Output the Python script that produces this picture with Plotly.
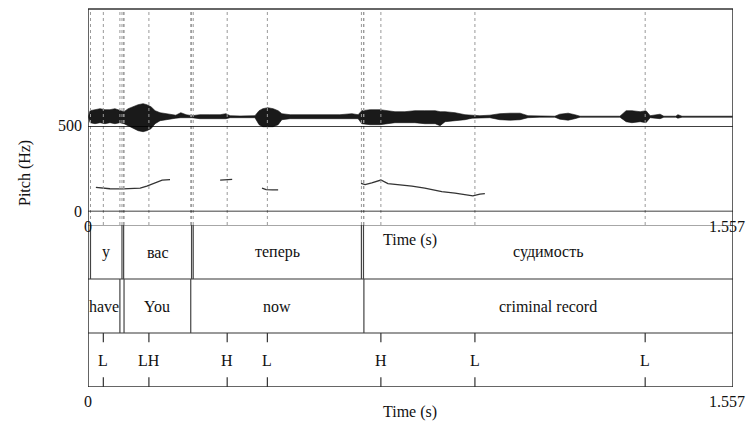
import plotly.graph_objects as go

W, H = 755, 430
OFF = 8                    # page body margin offset
T_END = 1.557

# ---------------- data ----------------
# waveform envelope (time s, upper / lower amplitude, arbitrary units)
wave_t = [0.001, 0.005, 0.017, 0.029, 0.041, 0.053, 0.065, 0.077, 0.087, 0.097,
          0.109, 0.121, 0.133, 0.142, 0.152, 0.162, 0.174, 0.186, 0.198, 0.212,
          0.224, 0.237, 0.251, 0.270, 0.294, 0.319, 0.333, 0.343, 0.367, 0.391,
          0.403, 0.413, 0.422, 0.434, 0.447, 0.459, 0.468, 0.488, 0.512, 0.560,
          0.608, 0.637, 0.652, 0.661, 0.681, 0.705, 0.719, 0.741, 0.765, 0.789,
          0.813, 0.838, 0.850, 0.862, 0.886, 0.910, 0.927, 0.946, 0.970, 0.994,
          1.019, 1.043, 1.062, 1.091, 1.127, 1.139, 1.159, 1.175, 1.188, 1.236,
          1.284, 1.299, 1.313, 1.333, 1.347, 1.357, 1.381, 1.390, 1.419, 1.424,
          1.434, 1.477, 1.556]
wave_up = [0, 6, 7, 8, 7, 7, 8, 6, 5, 8,
           10, 12, 13, 12, 10, 6, 4, 3, 2, 1.5,
           4, 2, 1, 2, 2, 2, 3, 1, 0.7, 0.7,
           1, 6, 8, 9, 8, 6, 3, 2, 2, 2,
           2, 3, 2, 6, 7, 7, 6, 5, 5, 6,
           6, 6, 5, 5, 4, 2, 1.5, 1, 1.5, 3,
           3.5, 3.5, 1, 0.5, 0.5, 2.5, 3.5, 2, 0.5, 0.5,
           0.5, 6, 6, 5, 6, 1, 2.5, 0.5, 0.5, 2,
           0.5, 0.5, 0.5]
wave_lo = [0, -6, -7, -6, -7, -6, -7, -6, -7, -9,
           -12, -14, -15, -14, -12, -7, -4, -3, -2, -1.5,
           -1, -1, -1, -2, -2, -2, -2, -1, -0.7, -0.7,
           -1, -8, -10, -10, -10, -8, -3, -2, -2, -2,
           -2, -2, -2, -7, -8, -8, -7, -6, -6, -6,
           -7, -7, -9, -5, -4, -3, -1.5, -1, -1, -3,
           -3.5, -3, -1, -0.5, -0.5, -2.5, -3.5, -2, -0.5, -0.5,
           -0.5, -5, -6, -5, -6, -1, -2, -0.5, -0.5, -1.5,
           -0.5, -0.5, -0.5]

# pitch contour segments (time s, Hz)
pitch_seg_t = [
    [0.019, 0.053, 0.084, 0.126, 0.142, 0.167, 0.179, 0.198],
    [0.319, 0.335, 0.348],
    [0.420, 0.430, 0.445, 0.459],
    [0.659, 0.669, 0.685, 0.707, 0.724, 0.782, 0.813, 0.854, 0.886, 0.929, 0.946, 0.958],
]
pitch_seg_hz = [
    [141, 133, 132, 137, 149, 174, 184, 186],
    [184, 184, 188],
    [136, 128, 126, 126],
    [165, 157, 167, 184, 163, 149, 137, 116, 108, 91, 102, 104],
]

# tier 1: Russian words
tier1_start = [0.006, 0.086, 0.254, 0.665]
tier1_end = [0.082, 0.250, 0.660, T_END]
tier1_text = ["у", "вас", "теперь", "судимость"]
# tier 2: English gloss
tier2_start = [0.0, 0.087, 0.248, 0.666]
tier2_end = [0.077, 0.248, 0.666, T_END]
tier2_text = ["have", "You", "now", "criminal record"]
# tier 3: tones (points)
tone_t = [0.037, 0.147, 0.336, 0.433, 0.707, 0.934, 1.345]
tone_text = ["L", "LH", "H", "L", "H", "L", "L"]

pitch_ticks = [0, 500]

# ---------------- layout helpers ----------------
FW, FH = W - 2 * OFF, H - 2 * OFF

def py(y):
    return 1 - (y - OFF) / FH

def pxx(x):
    return (x - OFF) / FW

X0, X1 = 88, 733          # plot left/right (px)
TOP = 9                   # top frame
P500, P0 = 126, 211.5     # pitch 500 / 0 lines
TIER_TOP, TIER_BOT = 225, 387
WAVE_BASE, WAVE_BOT = 116.7, 140

FONT = "Liberation Serif"
FS = 16
fig = go.Figure()

# waveform as a filled envelope
fig.add_trace(go.Scatter(x=wave_t, y=wave_up, mode="lines", xaxis="x", yaxis="y2",
                         line=dict(color="#111", width=0.6), hoverinfo="skip"))
fig.add_trace(go.Scatter(x=wave_t, y=wave_lo, mode="lines", xaxis="x", yaxis="y2",
                         fill="tonexty", fillcolor="#1a1a1a",
                         line=dict(color="#111", width=0.6), hoverinfo="skip"))

# pitch contour
px_all, py_all = [], []
for ts, hs in zip(pitch_seg_t, pitch_seg_hz):
    px_all += ts + [None]
    py_all += hs + [None]
fig.add_trace(go.Scatter(x=px_all, y=py_all, mode="lines", xaxis="x", yaxis="y",
                         line=dict(color="#333", width=1.3), connectgaps=False,
                         hoverinfo="skip"))

shapes = []
# dotted marker lines across the sound / pitch area
marks = sorted(set([t for t in tier1_start + tier1_end + tier2_start + tier2_end + tone_t
                    if 0 < t < T_END]))
for t in marks:
    shapes.append(dict(type="line", xref="x", yref="paper", x0=t, x1=t,
                       y0=py(TIER_TOP), y1=py(TOP),
                       line=dict(color="#999", width=1, dash="dot")))

# horizontal pitch lines
for hz in pitch_ticks:
    shapes.append(dict(type="line", xref="x", yref="y", x0=0, x1=T_END, y0=hz, y1=hz,
                       line=dict(color="#000", width=1.3)))

# tier horizontal lines
for yv, col in [(3, "#8a8a8a"), (2, "#777"), (1, "#777"), (0, "#333")]:
    shapes.append(dict(type="line", xref="x", yref="y3", x0=0, x1=T_END, y0=yv, y1=yv,
                       line=dict(color=col, width=1.3)))

# interval boundaries
for starts, ends, row in [(tier1_start, tier1_end, 2), (tier2_start, tier2_end, 1)]:
    bset = sorted(set([t for t in starts + ends if 0 < t < T_END]))
    for t in bset:
        shapes.append(dict(type="line", xref="x", yref="y3", x0=t, x1=t, y0=row, y1=row + 1,
                           line=dict(color="#444", width=1.2)))

# tone ticks
for t in tone_t:
    shapes.append(dict(type="line", xref="x", yref="y3", x0=t, x1=t, y0=1, y1=0.83,
                       line=dict(color="#333", width=1.2)))
    shapes.append(dict(type="line", xref="x", yref="y3", x0=t, x1=t, y0=0, y1=0.18,
                       line=dict(color="#333", width=1.2)))

# frame
shapes.append(dict(type="line", xref="x", yref="paper", x0=0, x1=T_END, y0=py(TOP), y1=py(TOP),
                   line=dict(color="#333", width=1.3)))
for t in [0, T_END]:
    shapes.append(dict(type="line", xref="x", yref="paper", x0=t, x1=t, y0=py(TIER_BOT), y1=py(TOP),
                       line=dict(color="#222", width=1.4)))

ann = []
def A(text, x, y, xref="paper", yref="paper", xanchor="center", yanchor="middle", angle=0, size=FS):
    ann.append(dict(text=text, x=x, y=y, xref=xref, yref=yref, xanchor=xanchor, yanchor=yanchor,
                    showarrow=False, textangle=angle,
                    font=dict(family=FONT, size=size, color="#111")))

for s, e, txt in zip(tier1_start, tier1_end, tier1_text):
    A(txt, (s + e) / 2, 2.5, xref="x", yref="y3")
for s, e, txt in zip(tier2_start, tier2_end, tier2_text):
    A(txt, (s + e) / 2, 1.5, xref="x", yref="y3")
for t, txt in zip(tone_t, tone_text):
    A(txt, t, 0.5, xref="x", yref="y3")

A("Pitch (Hz)", pxx(25), py(173), angle=-90)
for hz in pitch_ticks:
    A(str(hz), pxx(84), hz, yref="y", xanchor="right")
A("0", 0, py(226), xref="x")
A(f"{T_END:.3f}", pxx(747), py(226), xanchor="right")
A("Time (s)", pxx(410), py(240))
A("0", 0, py(401), xref="x")
A(f"{T_END:.3f}", pxx(747), py(401), xanchor="right")
A("Time (s)", pxx(410), py(412))

wave_lo_rng = -(WAVE_BOT - WAVE_BASE)
wave_hi_rng = WAVE_BASE - TOP

fig.update_layout(
    width=FW, height=FH,
    margin=dict(l=0, r=0, t=0, b=0),
    paper_bgcolor="white", plot_bgcolor="rgba(0,0,0,0)",
    showlegend=False,
    xaxis=dict(domain=[pxx(X0), pxx(X1)], range=[0, T_END], visible=False, fixedrange=True),
    yaxis=dict(domain=[py(P0), py(P500)], range=[0, 500], visible=False, anchor="x"),
    yaxis2=dict(domain=[py(WAVE_BOT), py(TOP)], range=[wave_lo_rng, wave_hi_rng],
                visible=False, anchor="x"),
    yaxis3=dict(domain=[py(TIER_BOT), py(TIER_TOP)], range=[0, 3], visible=False, anchor="x"),
    shapes=shapes,
    annotations=ann,
)

fig.write_html("out.html")
